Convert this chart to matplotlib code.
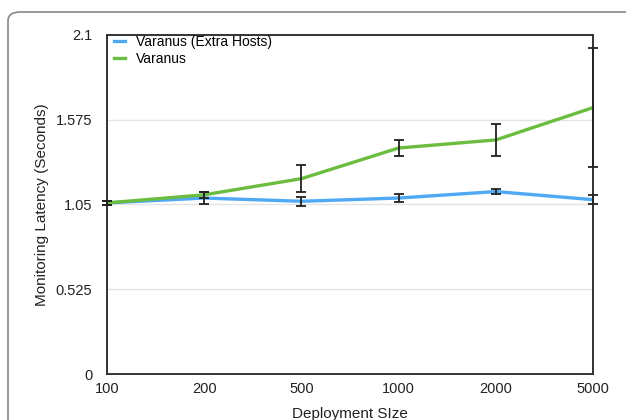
import numpy as np
import matplotlib.pyplot as plt
from matplotlib.patches import FancyBboxPatch

plt.rcParams['font.family'] = ['Liberation Sans', 'DejaVu Sans']

# Data
sizes = ["100", "200", "500", "1000", "2000", "5000"]
extra_hosts = [1.06, 1.09, 1.07, 1.09, 1.13, 1.08]
extra_hosts_err = [0.012, 0.035, 0.028, 0.022, 0.014, 0.03]
varanus = [1.06, 1.11, 1.21, 1.40, 1.45, 1.65]
varanus_err = [0.012, 0.018, 0.085, 0.05, 0.10, 0.37]

fig = plt.figure(figsize=(6.26, 4.2), dpi=100)

# rounded panel frame around the figure
frame = FancyBboxPatch((8 / 626, -0.05), 1.2, (420 - 12) / 420 + 0.05,
                       boxstyle="round,pad=0,rounding_size=0.02",
                       transform=fig.transFigure, facecolor='none',
                       edgecolor='#888888', linewidth=1.2, zorder=-1)
fig.patches.append(frame)

ax = fig.add_axes([107 / 626, 46 / 420, (593 - 107) / 626, (374 - 35) / 420])
ax.patch.set_alpha(0)
x = np.arange(len(sizes))

ax.plot(x, extra_hosts, color='#4fa9f5', linewidth=2.4, label='Varanus (Extra Hosts)', zorder=3)
ax.plot(x, varanus, color='#6cbd3f', linewidth=2.4, label='Varanus', zorder=3)
ax.errorbar(x, extra_hosts, yerr=extra_hosts_err, fmt='none', ecolor='#222222',
            elinewidth=1.3, capsize=3.5, capthick=1.3, zorder=4, clip_on=False)
ax.errorbar(x, varanus, yerr=varanus_err, fmt='none', ecolor='#222222',
            elinewidth=1.3, capsize=3.5, capthick=1.3, zorder=4, clip_on=False)

ax.set_xlim(0, 5)
ax.set_ylim(0, 2.1)
ax.set_xticks(x)
ax.set_xticklabels(sizes)
ax.set_yticks([0, 0.525, 1.05, 1.575, 2.1])
ax.set_yticklabels(["0", "0.525", "1.05", "1.575", "2.1"])
ax.tick_params(length=0, labelsize=10.5, pad=6, colors='#222222')
ax.tick_params(axis='y', pad=10.5)
ax.yaxis.grid(True, color='#e4e4e4', linewidth=1)
ax.set_axisbelow(True)
for s in ax.spines.values():
    s.set_color('#333333')
    s.set_linewidth(1.4)

ax.set_xlabel("Deployment SIze", fontsize=11, labelpad=8, color='#222222')
ax.set_ylabel("Monitoring Latency (Seconds)", fontsize=11, labelpad=5, color='#222222')

ax.legend(loc='upper left', frameon=False, fontsize=10, handlelength=0.8,
          borderaxespad=0.1, labelspacing=0.2, handletextpad=0.8,
          bbox_to_anchor=(0.0, 1.02))

fig.savefig("out.png", dpi=100)
